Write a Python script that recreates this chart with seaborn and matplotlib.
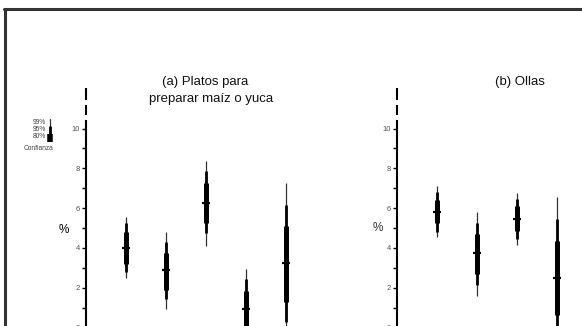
import matplotlib
matplotlib.use("Agg")
import matplotlib.pyplot as plt
from matplotlib.lines import Line2D
import numpy as np
import pandas as pd
import seaborn as sns

sns.set_theme(style="white")
plt.rcParams["font.family"] = ["Liberation Sans", "DejaVu Sans"]

# (a) Platos para preparar maíz o yuca
plates_mid = [3.98, 2.87, 6.27, 0.91, 3.23]
plates_lo99 = [2.47, 0.94, 4.11, -1.10, -0.80]
plates_hi99 = [5.54, 4.78, 8.37, 2.92, 7.25]
plates_lo95 = [2.80, 1.43, 4.73, -0.60, 0.30]
plates_hi95 = [5.24, 4.28, 7.88, 2.42, 6.16]
plates_lo80 = [3.18, 1.90, 5.24, -0.03, 1.30]
plates_hi80 = [4.81, 3.74, 7.28, 1.85, 5.10]

# (b) Ollas
pots_mid = [5.82, 3.73, 5.45, 2.50]
pots_lo99 = [4.55, 1.60, 4.16, -1.57]
pots_hi99 = [7.10, 5.79, 6.76, 6.57]
pots_lo95 = [4.80, 2.14, 4.45, -0.45]
pots_hi95 = [6.79, 5.27, 6.46, 5.45]
pots_lo80 = [5.25, 2.69, 4.83, 0.63]
pots_hi80 = [6.39, 4.70, 6.09, 4.36]

y_ticks = [0, 2, 4, 6, 8, 10]
levels = ["99%", "95%", "80%"]

W, H = 582, 326
fig = plt.figure(figsize=(W / 100, H / 100), dpi=100)

Y0_PX = 327.5      # pixel row of value 0
PX_PER_UNIT = 19.9
YMIN, YMAX = -2.0, 13.0


def axes_rect(x_left_px, xmax_units, px_per_x=40.0):
    top_px = Y0_PX - YMAX * PX_PER_UNIT
    bot_px = Y0_PX - YMIN * PX_PER_UNIT
    width_px = xmax_units * px_per_x
    return [x_left_px / W, 1 - bot_px / H, width_px / W, (bot_px - top_px) / H]


def panel(x_left_px, xmax, mid, lo99, hi99, lo95, hi95, lo80, hi80):
    ax = fig.add_axes(axes_rect(x_left_px, xmax))
    n = len(mid)
    df = pd.DataFrame({
        "pos": np.arange(1, n + 1),
        "mid": mid,
        "lo99": lo99, "hi99": hi99,
        "lo95": lo95, "hi95": hi95,
        "lo80": lo80, "hi80": hi80,
    })
    ax.vlines(df["pos"], df["lo99"], df["hi99"], color="#333333", lw=0.9)
    ax.vlines(df["pos"], df["lo95"], df["hi95"], color="black", lw=2.0)
    ax.vlines(df["pos"], df["lo80"], df["hi80"], color="black", lw=3.6)
    sns.scatterplot(data=df, x="pos", y="mid", marker="_", s=32,
                    color="black", linewidth=1.6, ax=ax, legend=False)
    ax.set_xlim(0, xmax)
    ax.set_ylim(YMIN, YMAX)
    for s in ["top", "right", "bottom"]:
        ax.spines[s].set_visible(False)
    ax.spines["left"].set_bounds(YMIN, 10.4)
    ax.spines["left"].set_linewidth(1.5)
    ax.spines["left"].set_color("black")
    ax.set_yticks(y_ticks)
    ax.set_yticklabels([str(t) for t in y_ticks])
    ax.set_yticks([1, 3, 5, 7, 9], minor=True)
    ax.tick_params(axis="y", which="both", direction="out", length=3,
                   width=1.0, color="black", labelsize=5.5,
                   labelcolor="#555555", pad=1.5, left=True)
    ax.set_xticks([])
    ax.set_xlabel("")
    ax.set_ylabel("")
    ax.patch.set_alpha(0)
    # broken-axis dashes above the scale
    for a, b in [(10.68, 11.18), (11.43, 12.03)]:
        ax.plot([0, 0], [a, b], color="black", lw=1.5, clip_on=False,
                solid_capstyle="butt")
    return ax


ax_a = panel(86, 5.6, plates_mid, plates_lo99, plates_hi99, plates_lo95,
             plates_hi95, plates_lo80, plates_hi80)
ax_b = panel(397, 4.65, pots_mid, pots_lo99, pots_hi99, pots_lo95,
             pots_hi95, pots_lo80, pots_hi80)


def fx(px):
    return px / W


def fy(py):
    return 1 - py / H


# titles
fig.text(fx(205), fy(82), "(a) Platos para", ha="center", va="center",
         fontsize=9.5, color="#111111")
fig.text(fx(211), fy(99), "preparar maíz o yuca", ha="center",
         va="center", fontsize=9.5, color="#111111")
fig.text(fx(520), fy(82), "(b) Ollas", ha="center", va="center",
         fontsize=9.5, color="#111111")

# y-axis unit labels
fig.text(fx(64), fy(230), "%", ha="center", va="center", fontsize=8.5,
         color="black")
fig.text(fx(378), fy(228), "%", ha="center", va="center", fontsize=8.5,
         color="#333333")

# confidence key
fig.add_artist(Line2D([fx(50), fx(50)], [fy(118.5), fy(127)],
                      color="#333333", lw=0.9))
fig.add_artist(Line2D([fx(50), fx(50)], [fy(127), fy(133.5)],
                      color="black", lw=2.0))
fig.add_artist(Line2D([fx(50), fx(50)], [fy(133.5), fy(141.5)],
                      color="black", lw=4.0, solid_capstyle="butt"))
for lab, py in zip(levels, [122, 129.5, 137]):
    fig.text(fx(46), fy(py), lab, ha="right", va="center", fontsize=4.8,
             color="#444444")
fig.text(fx(39), fy(148.5), "Confianza", ha="center", va="center",
         fontsize=4.8, color="#444444")

# outer frame
fig.add_artist(Line2D([fx(5), fx(5)], [fy(8.5), fy(340)], color="#333333",
                      lw=2.2))
fig.add_artist(Line2D([fx(4), fx(600)], [fy(8.5), fy(8.5)], color="#333333",
                      lw=2.2))

fig.savefig("out.png", dpi=100, facecolor="white")
